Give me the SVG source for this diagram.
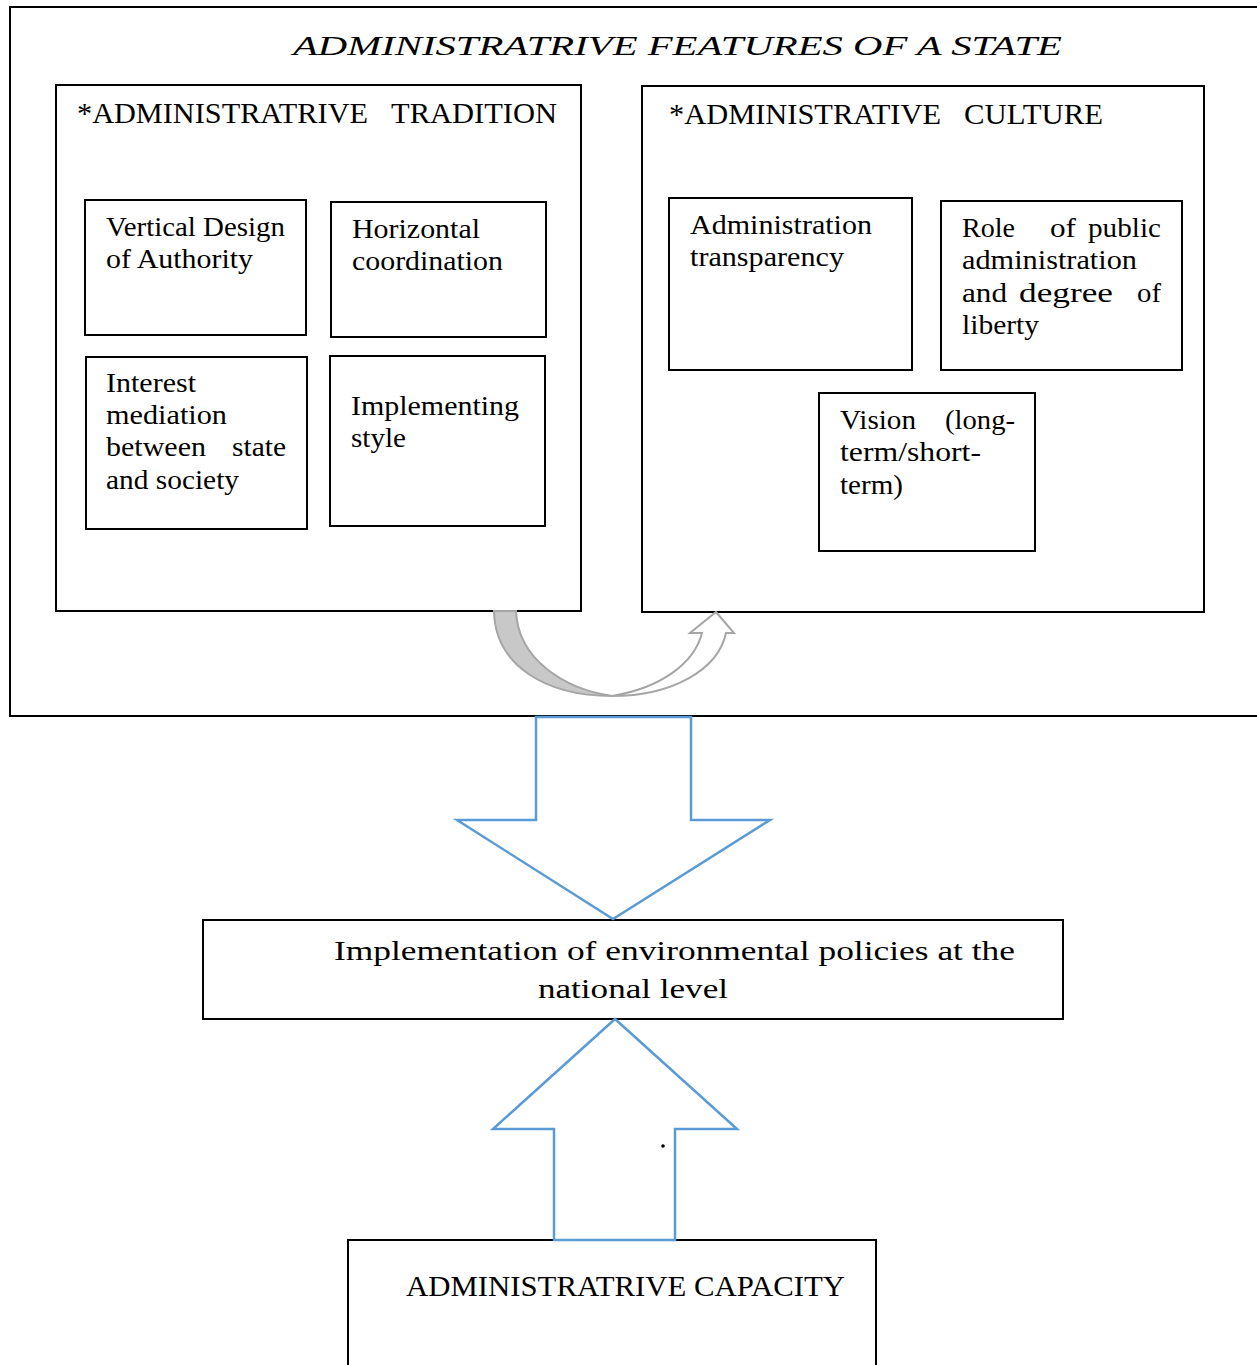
<svg xmlns="http://www.w3.org/2000/svg" width="1257" height="1365" viewBox="0 0 1257 1365">
<style>
.box{fill:#fff;stroke:#000;stroke-width:2}
.t{font-family:"Liberation Serif","DejaVu Serif",serif;font-size:27px;fill:#000}
.h{font-size:29px}
.blue{fill:#fff;stroke:#5b9bd5;stroke-width:2.5;stroke-linejoin:miter}
</style>
<rect width="1257" height="1365" fill="#fff"/>
<g id="outer">
<rect class="box" x="10" y="7" width="1262" height="709"/>
<text class="t" x="293" y="55" font-size="44" font-style="italic" textLength="769" lengthAdjust="spacingAndGlyphs">ADMINISTRATRIVE FEATURES OF A STATE</text>
</g>
<g id="tradition">
<rect class="box" x="56" y="85" width="525" height="526"/>
<text class="t h" y="123"><tspan x="77" textLength="291" lengthAdjust="spacingAndGlyphs">*ADMINISTRATRIVE</tspan><tspan x="391" textLength="166" lengthAdjust="spacingAndGlyphs">TRADITION</tspan></text>
</g>
<g id="vertical">
<rect class="box" x="85" y="200" width="221" height="135"/>
<text class="t"><tspan x="106" y="236" textLength="179" lengthAdjust="spacingAndGlyphs">Vertical Design</tspan><tspan x="106" y="268" textLength="147" lengthAdjust="spacingAndGlyphs">of Authority</tspan></text>
</g>
<g id="horizontal">
<rect class="box" x="331" y="202" width="215" height="135"/>
<text class="t"><tspan x="352" y="238" textLength="128" lengthAdjust="spacingAndGlyphs">Horizontal</tspan><tspan x="352" y="270" textLength="151" lengthAdjust="spacingAndGlyphs">coordination</tspan></text>
</g>
<g id="interest">
<rect class="box" x="86" y="357" width="221" height="172"/>
<text class="t"><tspan x="106" y="392" textLength="90" lengthAdjust="spacingAndGlyphs">Interest</tspan><tspan x="106" y="424" textLength="121" lengthAdjust="spacingAndGlyphs">mediation</tspan><tspan x="106" y="456" textLength="100" lengthAdjust="spacingAndGlyphs">between</tspan><tspan x="232" y="456" textLength="54" lengthAdjust="spacingAndGlyphs">state</tspan><tspan x="106" y="489" textLength="133" lengthAdjust="spacingAndGlyphs">and society</tspan></text>
</g>
<g id="implementing">
<rect class="box" x="330" y="356" width="215" height="170"/>
<text class="t"><tspan x="351" y="415" textLength="168" lengthAdjust="spacingAndGlyphs">Implementing</tspan><tspan x="351" y="447" textLength="55" lengthAdjust="spacingAndGlyphs">style</tspan></text>
</g>
<g id="culture">
<rect class="box" x="642" y="86" width="562" height="526"/>
<text class="t h" y="124"><tspan x="669" textLength="272" lengthAdjust="spacingAndGlyphs">*ADMINISTRATIVE</tspan><tspan x="964" textLength="139" lengthAdjust="spacingAndGlyphs">CULTURE</tspan></text>
</g>
<g id="transparency">
<rect class="box" x="669" y="198" width="243" height="172"/>
<text class="t"><tspan x="690" y="234" textLength="182" lengthAdjust="spacingAndGlyphs">Administration</tspan><tspan x="690" y="266" textLength="154" lengthAdjust="spacingAndGlyphs">transparency</tspan></text>
</g>
<g id="role">
<rect class="box" x="941" y="201" width="241" height="169"/>
<text class="t"><tspan x="962" y="237" textLength="53" lengthAdjust="spacingAndGlyphs">Role</tspan><tspan x="1050" y="237" textLength="26" lengthAdjust="spacingAndGlyphs">of</tspan><tspan x="1088" y="237" textLength="73" lengthAdjust="spacingAndGlyphs">public</tspan><tspan x="962" y="269" textLength="175" lengthAdjust="spacingAndGlyphs">administration</tspan><tspan x="962" y="302" textLength="45" lengthAdjust="spacingAndGlyphs">and</tspan><tspan x="1019" y="302" textLength="94" lengthAdjust="spacingAndGlyphs">degree</tspan><tspan x="1137" y="302" textLength="24" lengthAdjust="spacingAndGlyphs">of</tspan><tspan x="962" y="334" textLength="77" lengthAdjust="spacingAndGlyphs">liberty</tspan></text>
</g>
<g id="vision">
<rect class="box" x="819" y="393" width="216" height="158"/>
<text class="t"><tspan x="840" y="429" textLength="76" lengthAdjust="spacingAndGlyphs">Vision</tspan><tspan x="945" y="429" textLength="70" lengthAdjust="spacingAndGlyphs">(long-</tspan><tspan x="840" y="461" textLength="141" lengthAdjust="spacingAndGlyphs">term/short-</tspan><tspan x="840" y="494" textLength="63" lengthAdjust="spacingAndGlyphs">term)</tspan></text>
</g>
<g id="implementation">
<rect class="box" x="203" y="920" width="860" height="99"/>
<text class="t" font-size="31"><tspan x="334" y="960" textLength="681" lengthAdjust="spacingAndGlyphs">Implementation of environmental policies at the</tspan><tspan x="538" y="998" textLength="190" lengthAdjust="spacingAndGlyphs">national level</tspan></text>
</g>
<g id="capacity">
<rect class="box" x="348" y="1240" width="528" height="140"/>
<text class="t h" x="406" y="1296" textLength="439" lengthAdjust="spacingAndGlyphs">ADMINISTRATRIVE CAPACITY</text>
</g>
<g id="connectors">
<path d="M494,611 C495,665 545,696 612,696 C565,689 518,660 516,611 Z" fill="#c8c8c8" stroke="#a6a6a6" stroke-width="2"/>
<path d="M612,696 C672,696 718,670 726,633 L734,633 L716,612 L690,633 L702,633 C694,664 660,688 612,696 Z" fill="#fff" stroke="#a6a6a6" stroke-width="2"/>
<path class="blue" d="M536,717 L691,717 L691,820 L770,820 L613,919 L457,820 L536,820 Z"/>
<path class="blue" d="M615,1019 L737,1129 L675,1129 L675,1240 L554,1240 L554,1129 L493,1129 Z"/>
<circle cx="663" cy="1146" r="1.8" fill="#000"/>
</g>
</svg>
